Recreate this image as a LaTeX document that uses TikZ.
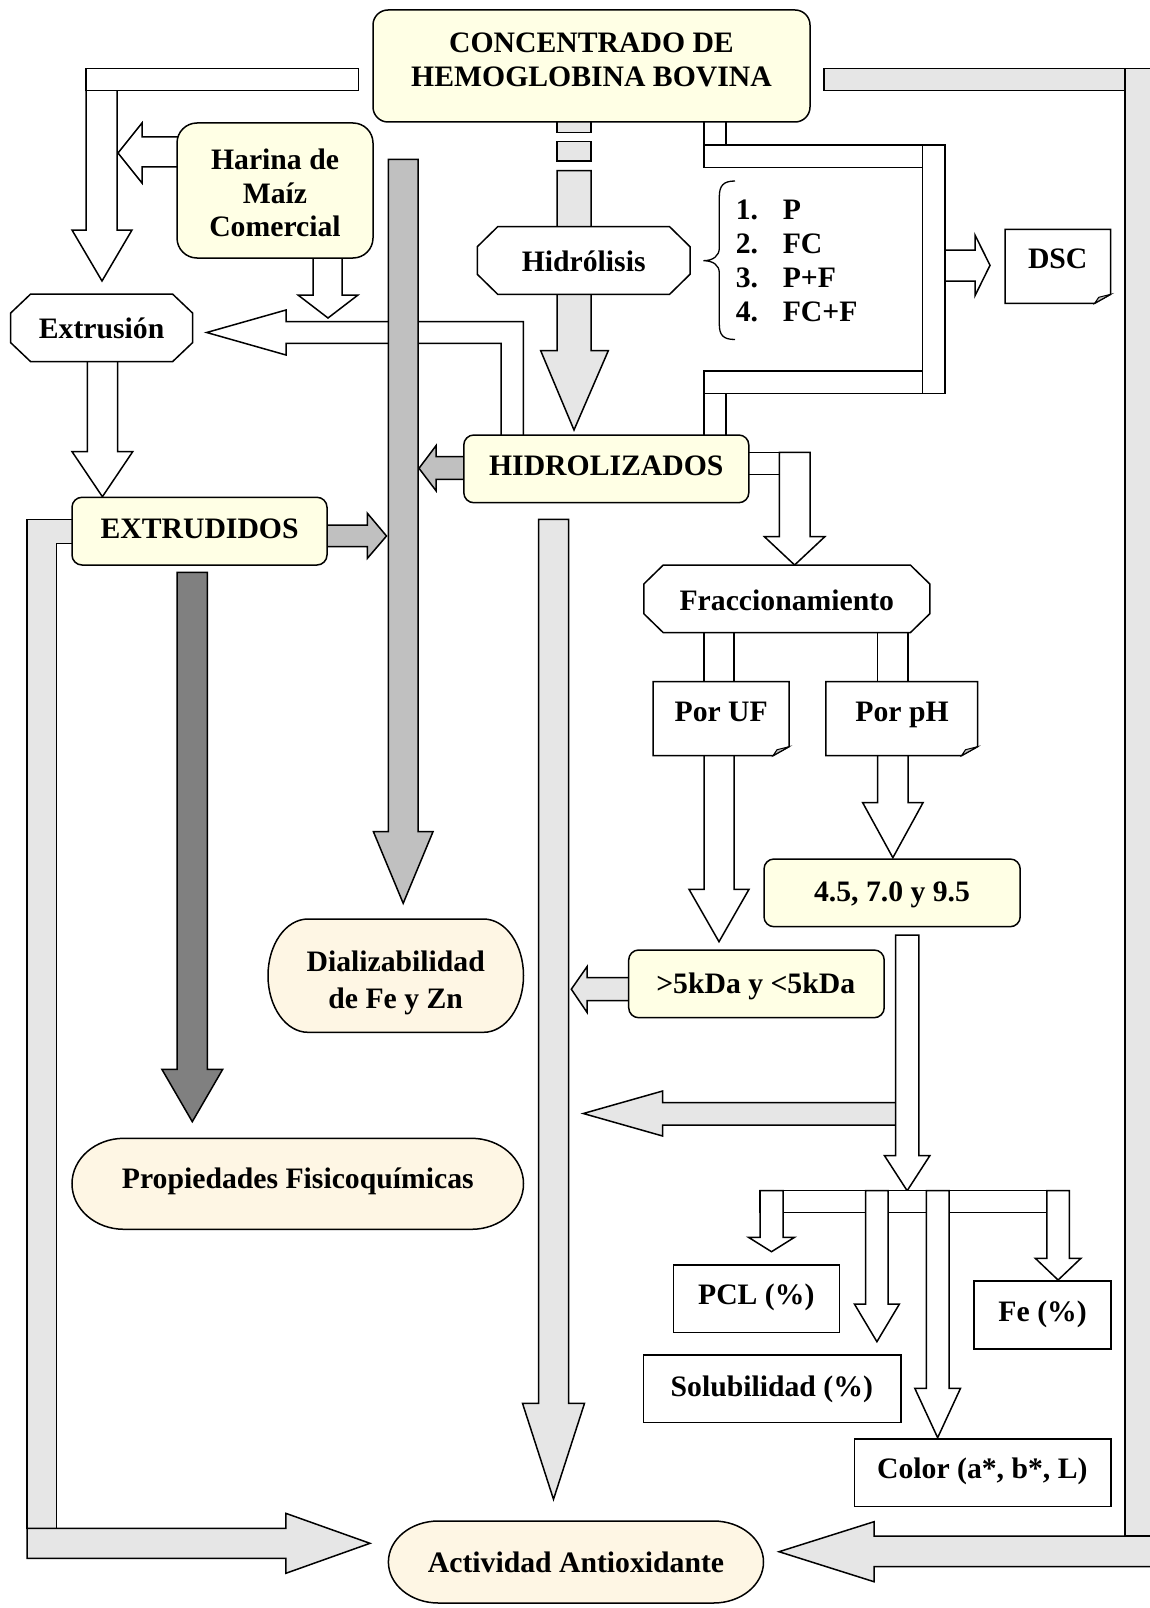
\documentclass[tikz,border=0pt]{standalone}
\usepackage{fontspec}
\setmainfont{Liberation Serif}
\definecolor{ylw}{HTML}{FFFFE5}
\definecolor{crm}{HTML}{FEF6E4}
\definecolor{pale}{HTML}{E6E6E6}
\definecolor{midg}{HTML}{C0C0C0}
\definecolor{dkg}{HTML}{808080}
\newcommand\dnarrow[7][wht]{\draw[#1] (#2,#4) -- (#3,#4) -- (#3,#5) -- ({#3+#6},#5) -- ({(#2+#3)/2},#7) -- ({#2-#6},#5) -- (#2,#5) -- cycle;}
\newcommand\oct[6]{\draw[wht] (#1,{#2+#6}) -- ({#1+#5},#2) -- ({#3-#5},#2) -- (#3,{#2+#6}) -- (#3,{#4-#6}) -- ({#3-#5},#4) -- ({#1+#5},#4) -- (#1,{#4-#6}) -- cycle;}
\newcommand\notebox[4]{\draw[wht] (#1,#2) -- (#3,#2) -- (#3,{#4-9}) -- ({#3-16},#4) -- (#1,#4) -- cycle;
  \draw[ol,fill=midg,line width=1pt] (#3,{#4-9}) -- ({#3-16},#4) -- ({#3-12},{#4-6}) -- cycle;}
\newcommand\term[6]{\draw[crmb] ({#1+#5},#2) -- ({#3-#5},#2) arc[start angle=90,end angle=-90,x radius=#5pt,y radius=#6pt] -- ({#1+#5},#4) arc[start angle=270,end angle=90,x radius=#5pt,y radius=#6pt] -- cycle;}
\begin{document}
\begin{tikzpicture}[x=1pt,y=-1pt,
  ol/.style={draw=black,line width=1.5pt},
  wht/.style={ol,fill=white},
  yb/.style={ol,fill=ylw,rounded corners=#1},
  yb/.default=10pt,
  crmb/.style={ol,fill=crm},
  palef/.style={ol,fill=pale},
  midf/.style={ol,fill=midg},
  dkf/.style={ol,fill=dkg},
  txt/.style={font=\fontsize{29.7}{34}\selectfont\bfseries,inner sep=0pt,text height=19.6pt,text depth=0pt}
]
\useasboundingbox (0,0) rectangle (1149,1608);
\fill[white] (0,0) rectangle (1149,1608);

% right pale bracket
\draw[palef] (824,68.3) rectangle (1125,90.7);
\draw[palef] (1160,1536) -- (874,1536) -- (874,1521.7) -- (779,1551.7) -- (874,1581.7) -- (874,1566.7) -- (1160,1566.7) -- cycle;
\draw[palef] (1125,68.3) rectangle (1160,1536);

% left pale bracket
\draw[palef] (80,519.3) -- (27,519.3) -- (27,1528.3) -- (56.5,1528.3) -- (56.5,543.3) -- (80,543.3);
\draw[palef] (27,1528.3) -- (285.8,1528.3) -- (285.8,1513.3) -- (370,1543.3) -- (285.8,1573.3) -- (285.8,1558.3) -- (27,1558.3) -- cycle;

% middle pale arrow
\dnarrow[palef]{538.5}{568.5}{519.3}{1403.3}{16}{1499.3}

% top-left bar and arrow
\draw[wht] (86,90.7) -- (86,230) -- (72,230) -- (102,281) -- (132,230) -- (117,230) -- (117,90.7);
\draw[wht] (86,68.3) rectangle (358.3,90.7);

% pale dashed connector and arrow to HIDROLIZADOS
\draw[palef] (557,115) rectangle (591,132.3);
\draw[palef] (557,141.7) rectangle (591,161);
\draw[palef] (557,170.7) -- (591,170.7) -- (591,350.7) -- (608.3,350.7) -- (574,430) -- (540.7,350.7) -- (557,350.7) -- cycle;

% frame to DSC
\draw[wht] (704,115) rectangle (726,145);
\draw[wht] (945,250) -- (975,250) -- (975,235) -- (990,265.3) -- (975,295.7) -- (975,281) -- (945,281);
\draw[wht] (704,145) rectangle (945,167.7);
\draw[wht] (704,371) rectangle (945,393.3);
\draw[wht] (922.3,145) rectangle (945,393.3);
\draw[wht] (704,393.3) rectangle (726,440);

% CONCENTRADO
\draw[yb=15pt] (373,10) rectangle (810,122);
\node[txt] (tconc1) at (591.5,43) {CONCENTRADO DE};
\node[txt] (tconc2) at (591.5,77) {HEMOGLOBINA BOVINA};

% Harina
\draw[wht] (185,137) -- (142,137) -- (142,123) -- (118,153) -- (142,183) -- (142,167) -- (185,167);
\draw[wht] (313,250) -- (313,295) -- (298,295) -- (328,318) -- (358,295) -- (342,295) -- (342,250);
\draw[yb=20pt] (177,123) rectangle (373,258);
\node[txt] (thar1) at (275,160) {Harina de};
\node[txt] (thar2) at (275,193.5) {Maíz};
\node[txt] (thar3) at (275,227) {Comercial};

% L arrow HIDROLIZADOS -> Extrusion
\draw[wht] (523.3,440) -- (523.3,321.7) -- (286,321.7) -- (286,310) -- (206.7,332.5) -- (286,355) -- (286,343.3) -- (501,343.3) -- (501,440);

% Extrusion
\dnarrow{87.3}{117.5}{355}{451.7}{15.2}{496.7}
\oct{10.7}{294}{192.5}{361.7}{20}{19}
\node[txt] (textr) at (101.6,329) {Extrusión};

% EXTRUDIDOS
\draw[midf] (320,525) -- (367.4,525) -- (367.4,513.3) -- (386.5,536) -- (367.4,558.3) -- (367.4,546.7) -- (320,546.7);
\draw[yb] (72,497.3) rectangle (327,565);
\node[txt] (textrd) at (199.6,528.3) {EXTRUDIDOS};
\dnarrow[dkf]{177.2}{207.4}{572.3}{1069.3}{15.3}{1121.7}

% gray bar and HIDROLIZADOS gray arrow
\draw[midf] (470,456.7) -- (436,456.7) -- (436,445.7) -- (419,468.3) -- (436,490.7) -- (436,479.3) -- (470,479.3);
\dnarrow[midf]{388.4}{418}{159.3}{831.7}{15}{903.3}

% Hidrolisis
\oct{477.3}{226.7}{690}{294.3}{20.4}{20}
\node[txt] (thid) at (583.7,261.5) {Hidrólisis};

% brace and list
\draw[line width=1.3pt] (735,181) .. controls (723,181) and (719.3,186) .. (719.3,197) -- (719.3,248) .. controls (719.3,256) and (713,260.7) .. (703.3,260.7) .. controls (713,260.7) and (719.3,265) .. (719.3,273) -- (719.3,324) .. controls (719.3,335) and (723,339.5) .. (735,339.5);
\node[txt,anchor=west] (n1) at (735.6,210) {1.};
\node[txt,anchor=west] (n2) at (735.6,243.5) {2.};
\node[txt,anchor=west] (n3) at (735.6,277.3) {3.};
\node[txt,anchor=west] (n4) at (735.6,311.7) {4.};
\node[txt,anchor=west] (l1) at (782.6,210) {P};
\node[txt,anchor=west] (l2) at (782.6,243.5) {FC};
\node[txt,anchor=west] (l3) at (782.6,277.3) {P+F};
\node[txt,anchor=west] (l4) at (782.6,311.7) {FC+F};

% DSC
\notebox{1005}{229.3}{1110.7}{303.3}
\node[txt] (tdsc) at (1057.7,258.3) {DSC};

% HIDROLIZADOS -> Fraccionamiento
\draw[wht] (740,452.3) rectangle (779.3,474.3);
\draw[wht] (779.3,452.3) -- (810,452.3) -- (810,536.7) -- (824.8,536.7) -- (794.6,565) -- (764.4,536.7) -- (779.3,536.7) -- cycle;
\draw[yb] (463.8,435) rectangle (748.8,502.7);
\node[txt] (thidz) at (606.3,466) {HIDROLIZADOS};

% Fraccionamiento
\draw[wht] (704,632.7) rectangle (734,690);
\draw[wht] (877.7,632.7) rectangle (908,690);
\oct{643.8}{565}{929.8}{632.7}{19.5}{19}
\node[txt] (tfrac) at (786.8,601) {Fraccionamiento};

% arrows from notes
\dnarrow{704}{734}{750}{889.3}{15}{941.7}
\dnarrow{877.7}{908}{750}{802.7}{15}{857.7}
\notebox{653.2}{681.7}{789}{755.7}
\notebox{825.8}{681.7}{977.5}{755.7}
\node[txt] (tuf) at (721.2,711.7) {Por UF};
\node[txt] (tph) at (902,711.7) {Por pH};

% 4.5 and >5kDa
\draw[palef] (636,977.7) -- (587,977.7) -- (587,966.7) -- (571.3,989.2) -- (587,1012.3) -- (587,1000.7) -- (636,1000.7);
\draw[yb] (764,859) rectangle (1020.2,926.7);
\node[txt] (t45) at (892,891.7) {4.5, 7.0 y 9.5};
\draw[yb] (628.7,950) rectangle (884.2,1017.7);
\node[txt] (t5k) at (755.7,983.3) {>5kDa y <5kDa};

% long arrow and pale branch
\draw[palef] (900,1102.7) -- (662.6,1102.7) -- (662.6,1091) -- (583.3,1113.5) -- (662.6,1136) -- (662.6,1125) -- (900,1125);
\dnarrow{895.5}{918.8}{935}{1155.7}{11}{1190.7}

% distribution
\draw[wht] (760,1190.7) rectangle (1069.4,1212.7);
\dnarrow{760}{783}{1190.7}{1237.3}{11.5}{1251.7}
\dnarrow{865.6}{888.2}{1190.7}{1304}{11.2}{1341.7}
\dnarrow{926.3}{949}{1190.7}{1388.3}{11.5}{1437.7}
\dnarrow{1046.8}{1069.4}{1190.7}{1258.3}{11.5}{1280}

\draw[wht] (673.3,1265) rectangle (839.3,1332.7);
\node[txt] (tpcl) at (756.3,1295) {PCL (\%)};
\draw[wht] (974.2,1281) rectangle (1110.9,1349);
\node[txt] (tfe) at (1042.6,1311.7) {Fe (\%)};
\draw[wht] (643.6,1355) rectangle (901,1422.7);
\node[txt] (tsol) at (771.8,1386.7) {Solubilidad (\%)};
\draw[wht] (854.5,1439) rectangle (1110.9,1506.7);
\node[txt] (tcol) at (982.3,1468.3) {Color (a*, b*, L)};

% terminators
\term{268}{919}{523.5}{1032.3}{40}{56.65}
\node[txt] (tdial1) at (395.7,961.7) {Dializabilidad};
\node[txt] (tdial2) at (395.7,998.3) {de Fe y Zn};
\term{72}{1138.3}{523.5}{1229.3}{52}{45.5}
\node[txt] (tprop) at (297.8,1178.3) {Propiedades Fisicoquímicas};
\term{388.4}{1521}{763.5}{1603}{50}{41}
\node[txt] (tact) at (576,1563) {Actividad Antioxidante};
\end{tikzpicture}
\end{document}
